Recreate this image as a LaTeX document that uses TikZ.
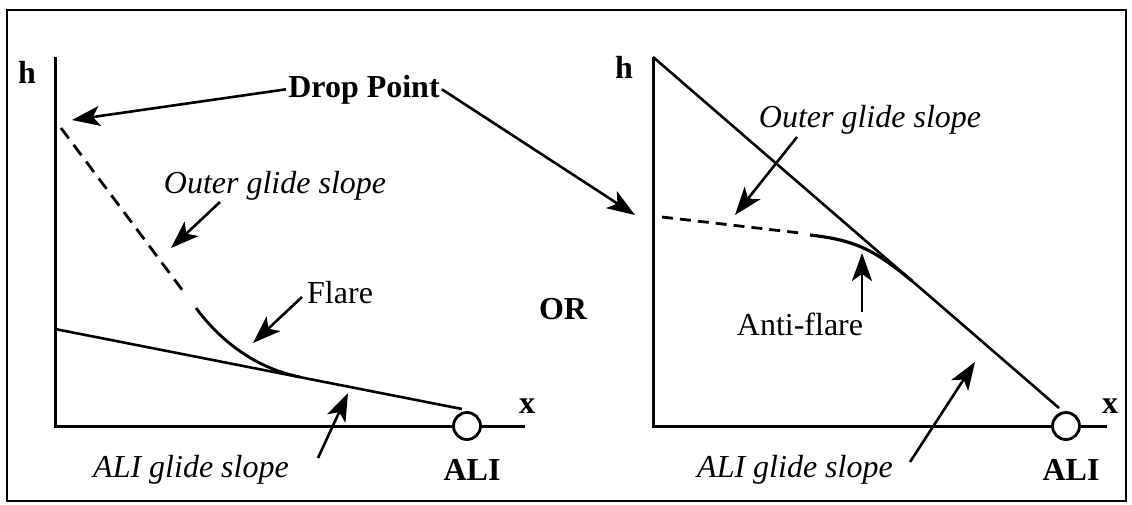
\documentclass[tikz,border=0pt]{standalone}
\usepackage{fontspec}
\setmainfont{Liberation Serif}
\usetikzlibrary{arrows.meta}
\begin{document}
\begin{tikzpicture}[x=1pt,y=-1pt,
  lbl/.style={font=\fontsize{32}{38}\selectfont, inner sep=2pt, anchor=base},
  blbl/.style={lbl, font=\fontsize{32}{38}\selectfont\bfseries},
  ilbl/.style={lbl, font=\fontsize{32}{38}\selectfont\itshape},
  axis/.style={line width=3pt},
  slope/.style={line width=2.6pt},
  dashline/.style={line width=2.8pt, dash pattern=on 13pt off 8pt},
  arr/.style={line width=2.6pt, -{Stealth[length=28pt,width=20pt,inset=7pt]}},
  aliring/.style={circle, draw, line width=2.8pt, fill=white, minimum size=27pt, inner sep=0pt}
]
\useasboundingbox (0,0) rectangle (1132,504);
\draw[line width=2.2pt] (7,10) rectangle (1126,501);

% ---------- left panel ----------
\coordinate (o1) at (55,426);
\coordinate (t1) at (55,57);
\coordinate (e1) at (525,426);
\node[aliring] (c1) at (467,426) {};
\draw[axis] (t1) -- (o1) -- (c1.west);
\draw[axis] (c1.east) -- (e1);
\node[blbl] (h1) at (27,83) {h};
\node[blbl] (x1) at (527,413) {x};
\node[blbl] (ali1) at (472,480) {ALI};

\coordinate (s1a) at (55,329);
\coordinate (s1b) at (462,409);
\draw[slope] (s1a) -- (s1b);
\coordinate (d1a) at (61,128);
\coordinate (d1b) at (186,295);
\draw[dashline] (d1a) -- (d1b);
\coordinate (f1a) at (196,308);
\coordinate (f1b) at (300,377);
\draw[slope, line width=2.9pt] (f1a) .. controls (216,335) and (250,367) .. (f1b);

\node[blbl] (dp) at (364,97) {Drop Point};
\coordinate (dpt1) at (72,120);
\coordinate (dpt2) at (635,215);
\draw[arr] (dp.west) -- (dpt1);
\draw[arr] (dp.east) -- (dpt2);

\node[ilbl] (og1) at (275,193) {Outer glide slope};
\coordinate (og1s) at (220,202);
\coordinate (og1t) at (171,248);
\draw[arr] (og1s) -- (og1t);

\node[lbl, anchor=base west] (fl) at (305,303) {Flare};
\coordinate (fls) at (302,297);
\coordinate (flt) at (253,343);
\draw[arr] (fls) -- (flt);

\node[ilbl] (ag1) at (191,477) {ALI glide slope};
\coordinate (ag1s) at (318,458);
\coordinate (ag1t) at (348,393);
\draw[arr] (ag1s) -- (ag1t);

\node[blbl] (or) at (563,319) {OR};

% ---------- right panel ----------
\coordinate (o2) at (653,426);
\coordinate (t2) at (653,57);
\coordinate (e2) at (1107,426);
\node[aliring] (c2) at (1066,426) {};
\draw[axis] (t2) -- (o2) -- (c2.west);
\draw[axis] (c2.east) -- (e2);
\node[blbl] (h2) at (624,78) {h};
\node[blbl] (x2) at (1110,413) {x};
\node[blbl] (ali2) at (1071,480) {ALI};

\coordinate (s2b) at (1059,408);
\draw[slope] (t2) -- (s2b);
\coordinate (d2a) at (662,217);
\coordinate (d2b) at (800,233);
\draw[dashline, dash pattern=on 11pt off 7pt] (d2a) -- (d2b);
\coordinate (f2a) at (810,235);
\coordinate (f2b) at (912,281);
\draw[slope, line width=3.2pt] (f2a) .. controls (855,240) and (875,250) .. (f2b);

\node[ilbl] (og2) at (870,127) {Outer glide slope};
\coordinate (og2s) at (797,137);
\coordinate (og2t) at (735,215);
\draw[arr] (og2s) -- (og2t);

\node[lbl] (af) at (800,335) {Anti-flare};
\coordinate (afs) at (862,312);
\coordinate (aft) at (862,253);
\draw[arr] (afs) -- (aft);

\node[ilbl] (ag2) at (795,477) {ALI glide slope};
\coordinate (ag2s) at (910,462);
\coordinate (ag2t) at (975,362);
\draw[arr] (ag2s) -- (ag2t);
\end{tikzpicture}
\end{document}
